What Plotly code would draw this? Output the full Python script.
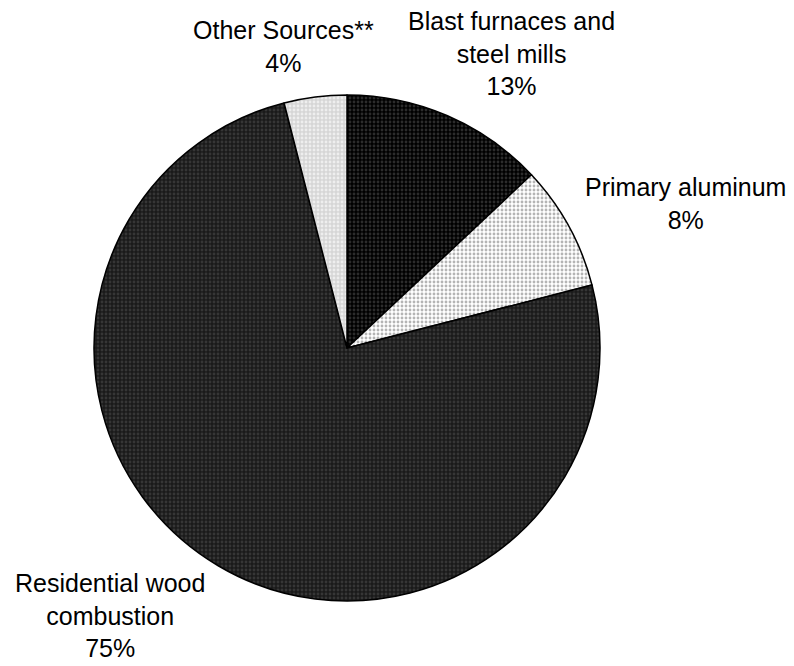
import plotly.graph_objects as go

# fontes e participacao (%)
fontes = ['Blast furnaces and steel mills', 'Primary aluminum',
          'Residential wood combustion', 'Other Sources**']
valores = [13, 8, 75, 4]
rotulos = ['Blast furnaces and<br>steel mills<br>13%',
           'Primary aluminum<br>8%',
           'Residential wood<br>combustion<br>75%',
           'Other Sources**<br>4%']

fundo = ['#000000', '#ffffff', '#1a1a1a', '#d6d6d6']
pontos = ['#2c2c2c', '#b4b4b4', '#363636', '#eeeeee']

# a pagina tem margem de 8px no body
OFF = 8
W, H = 794 - OFF, 666 - OFF
cx, cy, r = 347 - OFF, 348 - OFF, 253

fig = go.Figure(go.Pie(
    labels=fontes,
    values=valores,
    sort=False,
    direction='clockwise',
    rotation=0,
    textinfo='none',
    hoverinfo='none',
    showlegend=False,
    marker=dict(
        colors=fundo,
        line=dict(color='black', width=1.5),
        pattern=dict(shape='.', bgcolor=fundo, fgcolor=pontos,
                     size=4, solidity=0.4, fillmode='replace'),
    ),
    domain=dict(x=[(cx - r) / W, (cx + r) / W],
                y=[(H - cy - r) / H, (H - cy + r) / H]),
))

# posicao dos rotulos (pixels da imagem de referencia)
pos = [(511, 53), (685, 203), (110, 615), (283, 47)]
for txt, (px_, py_) in zip(rotulos, pos):
    fig.add_annotation(text=txt, x=(px_ - OFF) / W, y=(H - (py_ - OFF)) / H,
                       xref='paper', yref='paper', showarrow=False,
                       xanchor='center', yanchor='middle', align='center',
                       font=dict(family='Liberation Sans, Arial', size=25, color='black'))

fig.update_layout(width=W, height=H, margin=dict(l=0, r=0, t=0, b=0),
                  paper_bgcolor='white', plot_bgcolor='white')

fig.write_html("out.html")
